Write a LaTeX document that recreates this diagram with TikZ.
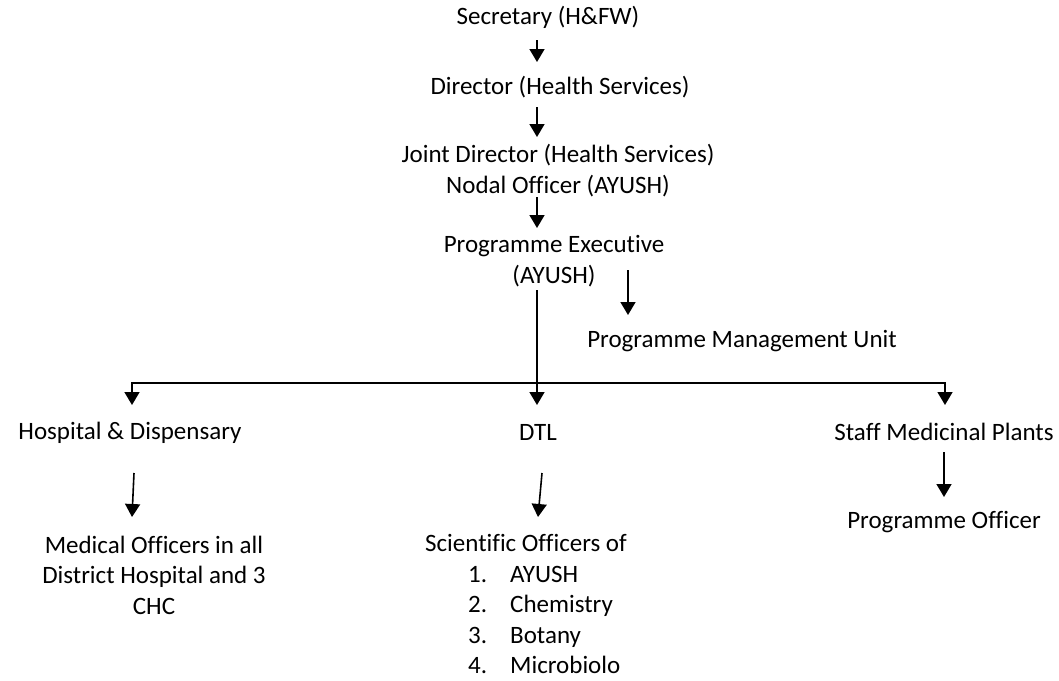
\documentclass[tikz,border=0pt]{standalone}
\usepackage{fontspec}
\setmainfont[Ligatures=NoCommon]{Carlito}
\usetikzlibrary{arrows.meta}
\begin{document}
\begin{tikzpicture}[x=1pt,y=-1pt,
  lbl/.style={inner sep=0pt,align=center,font=\fontsize{25}{30.5}\selectfont},
  ln/.style={line width=1.6pt},
  arr/.style={ln,-{Triangle[width=15pt,length=13pt]}}]
\useasboundingbox (0,0) rectangle (1059,680);
\node[lbl] (sec) at (548,17) {Secretary (H\&FW)};
\node[lbl] (dir) at (560,87) {Director (Health Services)};
\node[lbl] (jd) at (558,170.5) {Joint Director (Health Services)\\Nodal Officer (AYUSH)};
\node[lbl] (pe) at (554,261) {Programme Executive\\(AYUSH)};
\node[lbl] (pmu) at (742,341) {Programme Management Unit};
\node[lbl] (hosp) at (130,433) {Hospital \& Dispensary};
\node[lbl] (dtl) at (538,432) {DTL};
\node[lbl] (staff) at (944,432) {Staff Medicinal Plants};
\node[lbl] (mo) at (154,575) {Medical Officers in all\\District Hospital and 3\\CHC};
\node[lbl] (so) at (526,543) {Scientific Officers of};
\node[lbl,align=left,anchor=west] (list) at (468,620) {\makebox[42pt][l]{1.}AYUSH\\\makebox[42pt][l]{2.}Chemistry\\\makebox[42pt][l]{3.}Botany\\\makebox[42pt][l]{4.}Microbiolo};
\node[lbl] (po) at (944,522) {Programme Officer};
\coordinate (bar) at (537,383);
\coordinate (pmuin) at (628,270);
% top chain
\draw[arr] ([shift={(-11,23)}]sec.center) -- ([shift={(-23,-25)}]dir.center);
\draw[arr] ([shift={(-23,20)}]dir.center) -- ([shift={(-21,-33.5)}]jd.center);
\draw[arr] ([shift={(-21,26.5)}]jd.center) -- ([shift={(-17,-33)}]pe.center);
\draw[ln] ([shift={(-17,29)}]pe.center) -- (bar);
\draw[arr] (pmuin) -- ([shift={(-114,-26)}]pmu.center);
% bar
\draw[arr] (bar) -- ([shift={(-1,-27)}]dtl.center);
\draw[arr] (bar) -| ([shift={(2,-28)}]hosp.center);
\draw[arr] (bar) -| ([shift={(1,-27)}]staff.center);
% lower
\draw[arr] ([shift={(4,40)}]hosp.center) -- ([shift={(-22,-58)}]mo.center);
\draw[arr] ([shift={(4,41)}]dtl.center) -- ([shift={(12,-26)}]so.center);
\draw[arr] ([shift={(0,20)}]staff.center) -- ([shift={(0,-25)}]po.center);
\end{tikzpicture}
\end{document}
